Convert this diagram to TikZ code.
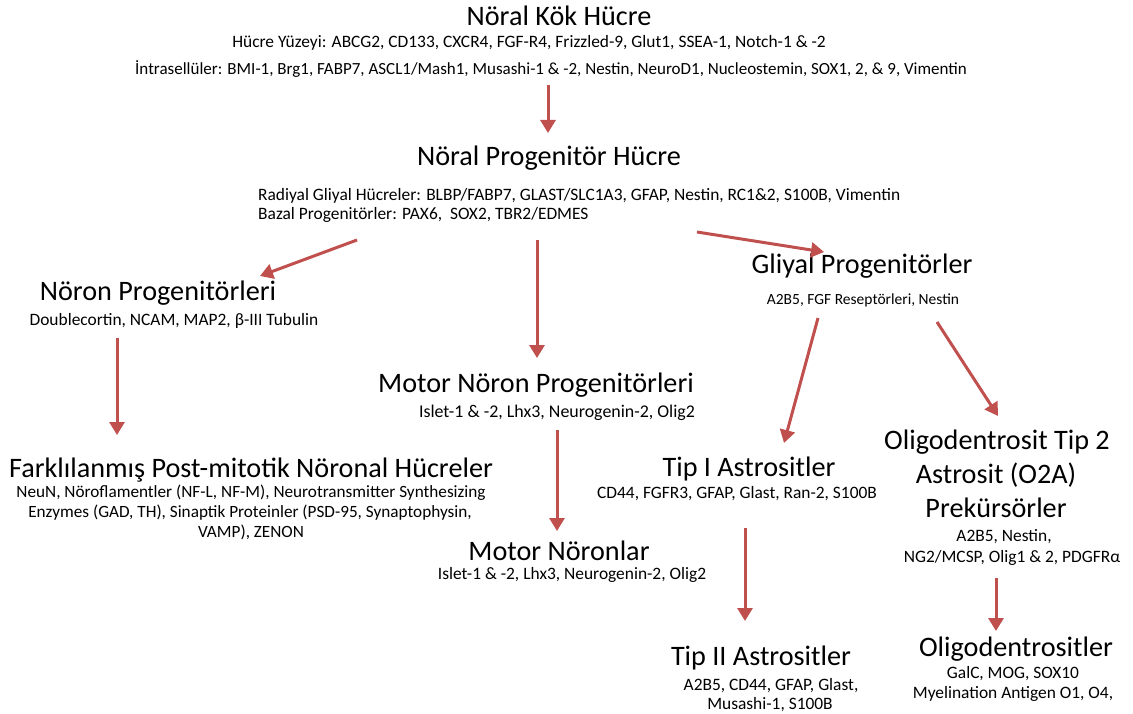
\documentclass[tikz,border=0pt]{standalone}
\usepackage{fontspec}
\setmainfont{Carlito}
\usetikzlibrary{arrows.meta}
\definecolor{arrowred}{HTML}{C0504D}
\tikzset{
  big/.style={font=\fontsize{28.2}{30}\selectfont, anchor=base, inner sep=0pt},
  small/.style={font=\fontsize{17.4}{19}\selectfont, anchor=base, inner sep=0pt},
  smallL/.style={small, anchor=base west},
  flow/.style={draw=arrowred, line width=3pt, -{Triangle[length=13pt,width=15pt]}},
}
\begin{document}
\begin{tikzpicture}[x=1pt,y=-1pt]
\useasboundingbox (0,0) rectangle (1133,714);
% Nöral Kök Hücre
\node[big] (t1) at (559,26) {Nöral Kök Hücre};
\node[small] (t1a) at (529,48) {Hücre Yüzeyi: ABCG2, CD133, CXCR4, FGF-R4, Frizzled-9, Glut1, SSEA-1, Notch-1 \& -2};
\node[small, font=\fontsize{17}{19}\selectfont] (t1b) at (551,75) {İntrasellüler: BMI-1, Brg1, FABP7, ASCL1/Mash1, Musashi-1 \& -2, Nestin, NeuroD1, Nucleostemin, SOX1, 2, \& 9, Vimentin};
% Nöral Progenitör Hücre
\node[big] (t2) at (549,166) {Nöral Progenitör Hücre};
\node[smallL] (t2a) at (258,201) {Radiyal Gliyal Hücreler: BLBP/FABP7, GLAST/SLC1A3, GFAP, Nestin, RC1\&2, S100B, Vimentin};
\node[smallL] (t2b) at (258,220) {Bazal Progenitörler: PAX6,\ \ SOX2, TBR2/EDMES};
% Nöron Progenitörleri
\node[big] (np) at (158,300) {Nöron Progenitörleri};
\node[small] (npa) at (174,325) {Doublecortin, NCAM, MAP2, β-III Tubulin};
% Gliyal Progenitörler
\node[big] (gp) at (862,274) {Gliyal Progenitörler};
\node[small, font=\fontsize{15.5}{17}\selectfont] (gpa) at (863,305) {A2B5, FGF Reseptörleri, Nestin};
% Motor Nöron Progenitörleri
\node[big] (mnp) at (536,392) {Motor Nöron Progenitörleri};
\node[small, font=\fontsize{17.9}{19}\selectfont] (mnpa) at (557,417) {Islet-1 \& -2, Lhx3, Neurogenin-2, Olig2};
% Farklılanmış
\node[big] (fp) at (251,477) {Farklılanmış Post-mitotik Nöronal Hücreler};
\node[small, font=\fontsize{17.2}{19}\selectfont] (fpa) at (251,497) {NeuN, Nöroflamentler (NF-L, NF-M), Neurotransmitter Synthesizing};
\node[small, font=\fontsize{17.2}{19}\selectfont] (fpb) at (250,517) {Enzymes (GAD, TH), Sinaptik Proteinler (PSD-95, Synaptophysin,};
\node[small, font=\fontsize{17.2}{19}\selectfont] (fpc) at (251,537) {VAMP), ZENON};
% Tip I
\node[big] (ta1) at (749,476) {Tip I Astrositler};
\node[small] (ta1a) at (737,498) {CD44, FGFR3, GFAP, Glast, Ran-2, S100B};
% O2A
\node[big] (o2a1) at (997,449) {Oligodentrosit Tip 2};
\node[big] (o2a2) at (996,483) {Astrosit (O2A)};
\node[big] (o2a3) at (996,517) {Prekürsörler};
\node[small] (o2aa) at (1004,541) {A2B5, Nestin,};
\node[small] (o2ab) at (1012,562) {NG2/MCSP, Olig1 \& 2, PDGFRα};
% Motor Nöronlar
\node[big] (mn) at (559,560) {Motor Nöronlar};
\node[small] (mna) at (572,579) {Islet-1 \& -2, Lhx3, Neurogenin-2, Olig2};
% Tip II
\node[big] (ta2) at (761,665) {Tip II Astrositler};
\node[small] (ta2a) at (771,690) {A2B5, CD44, GFAP, Glast,};
\node[small] (ta2b) at (770,709) {Musashi-1, S100B};
% Oligodentrositler
\node[big] (ol) at (1016,656) {Oligodentrositler};
\node[small] (ola) at (1013,678) {GalC, MOG, SOX10};
\node[small] (olb) at (1013,698) {Myelination Antigen O1, O4,};
% arrow end points
\coordinate (a1s) at (548,85);   \coordinate (a1e) at (548,133);
\coordinate (a2s) at (357,240);  \coordinate (a2e) at (260,276);
\coordinate (a3s) at (537,240);  \coordinate (a3e) at (537,358);
\coordinate (a4s) at (697,232);  \coordinate (a4e) at (824,252);
\coordinate (a5s) at (117,338);  \coordinate (a5e) at (117,435);
\coordinate (a6s) at (818,318);  \coordinate (a6e) at (784,443);
\coordinate (a7s) at (937,322);  \coordinate (a7e) at (998,416);
\coordinate (a8s) at (557,430);  \coordinate (a8e) at (557,531);
\coordinate (a9s) at (745,528);  \coordinate (a9e) at (745,621);
\coordinate (a10s) at (996,578); \coordinate (a10e) at (996,631);
\draw[flow] (a1s) -- (a1e);
\draw[flow] (a2s) -- (a2e);
\draw[flow] (a3s) -- (a3e);
\draw[flow] (a4s) -- (a4e);
\draw[flow] (a5s) -- (a5e);
\draw[flow] (a6s) -- (a6e);
\draw[flow] (a7s) -- (a7e);
\draw[flow] (a8s) -- (a8e);
\draw[flow] (a9s) -- (a9e);
\draw[flow] (a10s) -- (a10e);
\end{tikzpicture}
\end{document}
